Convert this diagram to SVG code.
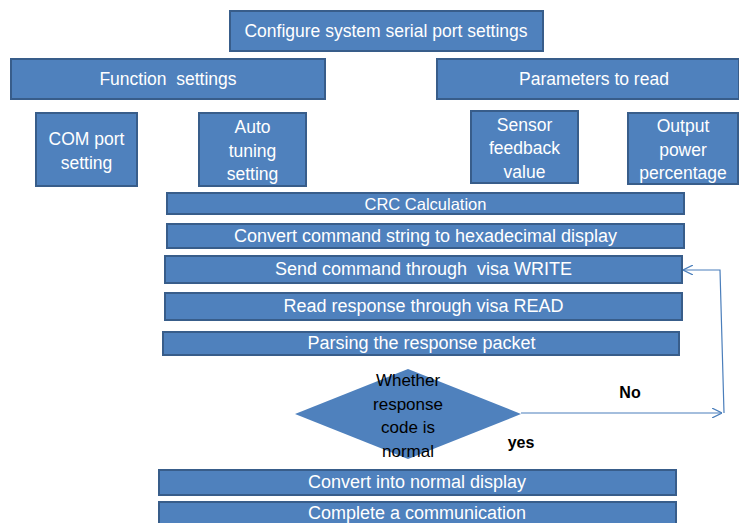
<svg xmlns="http://www.w3.org/2000/svg" width="739" height="523" viewBox="0 0 739 523">
<style>
.b{fill:#4f81bd;stroke:#385d8a;stroke-width:2}
.t{font-family:"Liberation Sans",Arial,sans-serif;font-size:17.5px;fill:#ffffff;text-anchor:middle}
.s{font-size:18px}
.d{font-family:"Liberation Sans",Arial,sans-serif;font-size:17px;fill:#000000;text-anchor:middle}
.l{font-family:"Liberation Sans",Arial,sans-serif;font-size:16px;font-weight:bold;fill:#000000;text-anchor:middle}
.c{fill:none;stroke:#4a7ebb;stroke-width:1.2}
</style>
<defs>
<marker id="ah" viewBox="0 0 10 10" refX="10" refY="5" markerWidth="10" markerHeight="10" markerUnits="userSpaceOnUse" orient="auto">
<path d="M0,0 L10,5 L0,10" fill="none" stroke="#4a7ebb" stroke-width="1.2"/>
</marker>
</defs>
<rect width="739" height="523" fill="#ffffff"/>
<g id="configure"><rect class="b" x="230" y="11" width="313" height="40"/><text class="t" x="386" y="37">Configure system serial port settings</text></g>
<g id="function"><rect class="b" x="11" y="59" width="314" height="40"/><text class="t" x="168" y="85" xml:space="preserve">Function  settings</text></g>
<g id="parameters"><rect class="b" x="437" y="59" width="302" height="40"/><text class="t" x="594" y="85">Parameters to read</text></g>
<g id="com"><rect class="b" x="36" y="113" width="101" height="73"/><text class="t" x="86.5" y="145">COM port</text><text class="t" x="86.5" y="169">setting</text></g>
<g id="auto"><rect class="b" x="199" y="113" width="107" height="73"/><text class="t" x="252.5" y="133">Auto</text><text class="t" x="252.5" y="157">tuning</text><text class="t" x="252.5" y="180">setting</text></g>
<g id="sensor"><rect class="b" x="471" y="111" width="107" height="72"/><text class="t" x="524.5" y="131">Sensor</text><text class="t" x="524.5" y="154">feedback</text><text class="t" x="524.5" y="178">value</text></g>
<g id="output"><rect class="b" x="628" y="113" width="110" height="71"/><text class="t" x="683" y="132">Output</text><text class="t" x="683" y="156">power</text><text class="t" x="683" y="179">percentage</text></g>
<g id="crc"><rect class="b" x="167" y="193" width="517" height="21"/><text class="t" x="425.5" y="210" style="font-size:16.5px">CRC Calculation</text></g>
<g id="convert-hex"><rect class="b" x="167" y="224" width="517" height="24"/><text class="t s" x="425.5" y="242">Convert command string to hexadecimal display</text></g>
<g id="send"><rect class="b" x="165" y="256" width="517" height="27"/><text class="t s" x="423.5" y="275" xml:space="preserve">Send command through  visa WRITE</text></g>
<g id="read"><rect class="b" x="165" y="293" width="517" height="27"/><text class="t s" x="423.5" y="312">Read response through visa READ</text></g>
<g id="parse"><rect class="b" x="163" y="332" width="516" height="23"/><text class="t s" x="421.5" y="349">Parsing the response packet</text></g>
<g id="decision"><polygon class="b" points="408,369 521,414 408,459 295,414" style="stroke:none"/><text class="d" x="408" y="386">Whether</text><text class="d" x="408" y="410">response</text><text class="d" x="408" y="433">code is</text><text class="d" x="408" y="457">normal</text></g>
<g id="convert-normal"><rect class="b" x="159" y="470" width="517" height="25"/><text class="t s" x="417" y="488">Convert into normal display</text></g>
<g id="complete"><rect class="b" x="159" y="502" width="517" height="24"/><text class="t s" x="417" y="519">Complete a communication</text></g>
<g id="connectors">
<line class="c" x1="521" y1="413" x2="722" y2="413" marker-end="url(#ah)"/>
<polyline class="c" points="724,413 720,270 683,270" marker-end="url(#ah)"/>
<text class="l" x="630" y="398">No</text>
<text class="l" x="521" y="448">yes</text>
</g>
</svg>
